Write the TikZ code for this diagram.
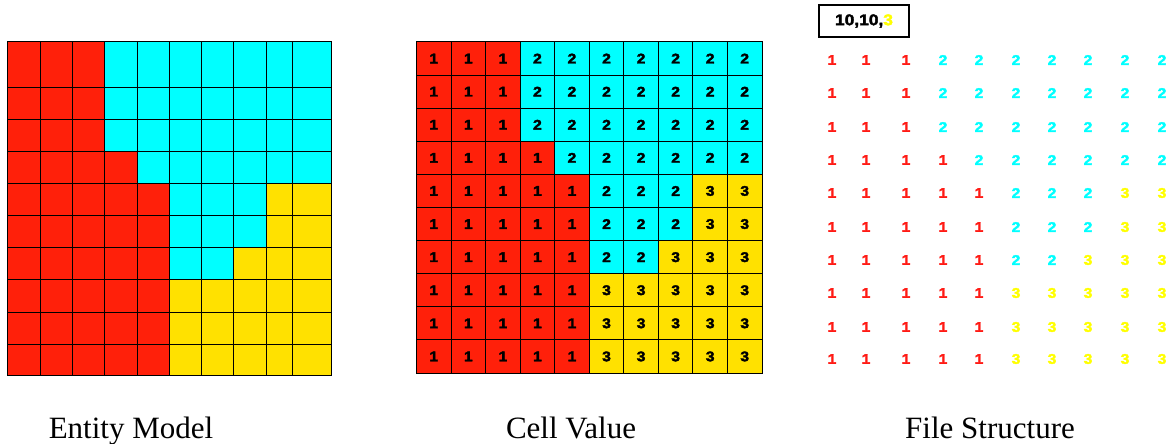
\documentclass[tikz,border=0pt]{standalone}
\usepackage{fontspec}
\usepackage{xcolor}
\setmainfont{Liberation Serif}
\newfontfamily\digitfont{Liberation Sans}[FakeStretch=1.12, BoldFeatures={FakeBold=2.5}]
\usepackage{tikz}
\usetikzlibrary{positioning}

\definecolor{col1}{RGB}{255,32,10}
\definecolor{col2}{RGB}{0,255,255}
\definecolor{col3}{RGB}{255,225,0}
\definecolor{txt1}{RGB}{255,26,20}
\definecolor{txt2}{RGB}{0,255,255}
\definecolor{txt3}{RGB}{255,255,0}

% cell values, row by row
\def\cellrows{{1,1,1,2,2,2,2,2,2,2},{1,1,1,2,2,2,2,2,2,2},{1,1,1,2,2,2,2,2,2,2},
  {1,1,1,1,2,2,2,2,2,2},{1,1,1,1,1,2,2,2,3,3},{1,1,1,1,1,2,2,2,3,3},
  {1,1,1,1,1,2,2,3,3,3},{1,1,1,1,1,3,3,3,3,3},{1,1,1,1,1,3,3,3,3,3},
  {1,1,1,1,1,3,3,3,3,3}}

\begin{document}
\begin{tikzpicture}[x=1pt, y=-1pt,
  emcell/.style={draw=black, line width=1pt, inner sep=0pt, outer sep=0pt},
  cvcell/.style={draw=black, line width=1pt, inner sep=0pt, outer sep=0pt,
                 minimum width=34.55pt, minimum height=33.1pt,
                 font=\digitfont\bfseries\fontsize{14}{14}\selectfont},
  fsnum/.style={inner sep=0pt, font=\digitfont\bfseries\fontsize{14}{14}\selectfont},
  caption/.style={anchor=base, font=\fontsize{31}{31}\selectfont}]
  \useasboundingbox (0,0) rectangle (1172,444);
  % grid edges
  \def\lx{{7,40,72,104,137,169,201,233,266,292,331}}
  \def\ly{{42,87,119,151,183,215,247,279,312,344,375}}
  \def\fx{{832,866,906,943,979,1016,1052,1088,1125,1162}}
  \def\fy{{60,93,127,160,193,227,260,293,327,359}}
  \foreach \row [count=\r] in \cellrows {
    \foreach \v [count=\c] in \row {
      \pgfmathsetmacro\xa{\lx[\c-1]}
      \pgfmathsetmacro\xb{\lx[\c]}
      \pgfmathsetmacro\ya{\ly[\r-1]}
      \pgfmathsetmacro\yb{\ly[\r]}
      \pgfmathsetmacro\fxc{\fx[\c-1]}
      \pgfmathsetmacro\fyc{\fy[\r-1]}
      \node[emcell, fill=col\v, minimum width={(\xb-\xa)*1pt},
            minimum height={(\yb-\ya)*1pt}] (em-\r-\c)
        at ({(\xa+\xb)/2},{(\ya+\yb)/2}) {};
      \node[cvcell, fill=col\v] (cv-\r-\c)
        at ({416.5+34.55*(\c-0.5)},{42+33.1*(\r-0.5)}) {\v};
      \node[fsnum, text=txt\v] (fs-\r-\c) at (\fxc,\fyc) {\v};
    }
  }
  \node[draw, line width=1.3pt, minimum width=90pt, minimum height=32pt,
        fsnum, font=\digitfont\bfseries\fontsize{15.5}{15.5}\selectfont]
    (hdr) at (864,21) {10,10,\textcolor{txt3}{3}};
  \node[caption] (lblem) at (131,438) {Entity Model};
  \node[caption] (lblcv) at (571,438) {Cell Value};
  \node[caption] (lblfs) at (990,438) {File Structure};
\end{tikzpicture}
\end{document}
